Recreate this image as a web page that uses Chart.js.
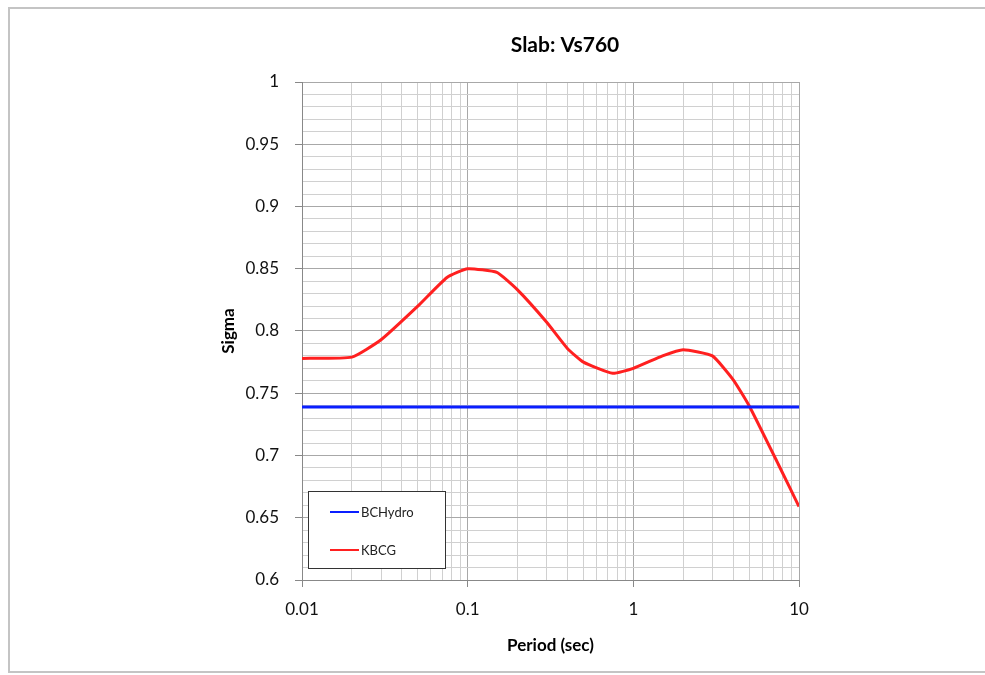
<!DOCTYPE html>
<html>
<head>
<meta charset="utf-8">
<script src="https://cdn.jsdelivr.net/npm/chart.js@4/dist/chart.umd.min.js"></script>
<style>
  html, body { margin: 0; padding: 0; background: #fff; }
  #wrap { width: 985px; height: 675px; position: relative; }
</style>
</head>
<body>
<div id="wrap"><canvas id="sigmaChart"></canvas></div>
<script>
// data
let periods = [0.01, 0.02, 0.03, 0.05, 0.075, 0.1, 0.15, 0.2, 0.3, 0.4, 0.5, 0.75, 1, 1.5, 2, 3, 4, 5, 7.5, 10];
let kbcg = [0.778, 0.779, 0.793, 0.82, 0.843, 0.85, 0.847, 0.833, 0.807, 0.786, 0.775, 0.766, 0.770, 0.780, 0.785, 0.780, 0.761, 0.740, 0.693, 0.659];
let bchydroPeriods = [0.01, 10];
let bchydro = [0.739, 0.739];
let xTickValues = [0.01, 0.1, 1, 10];
let chartTitle = "Slab: Vs760";

let fontName = "Lato, 'Open Sans', sans-serif";

let points = (xs, ys) => xs.map((x, i) => ({x: x, y: ys[i]}));

//title, legend box and the frame
let decorPlugin = {
    id: "decor",
    beforeDraw(chart) {
        let ctx = chart.ctx;
        ctx.save();
        ctx.fillStyle = "#fff";
        ctx.fillRect(0, 0, chart.width, chart.height);
        ctx.strokeStyle = "#c4c4c4";
        ctx.lineWidth = 2;
        ctx.beginPath();
        ctx.moveTo(986, 8);
        ctx.lineTo(9, 8);
        ctx.lineTo(9, 672);
        ctx.lineTo(986, 672);
        ctx.stroke();
        ctx.restore();
    },
    afterDraw(chart) {
        let ctx = chart.ctx;
        ctx.save();
        ctx.fillStyle = "#000";
        ctx.font = "bold 21px " + fontName;
        ctx.textAlign = "center";
        ctx.textBaseline = "middle";
        ctx.fillText(chartTitle, 565, 45);

        // legend
        ctx.fillStyle = "#fff";
        ctx.fillRect(308, 491, 137, 77);
        ctx.strokeStyle = "#333";
        ctx.lineWidth = 1;
        ctx.strokeRect(308.5, 491.5, 137, 77);
        ctx.font = "13px " + fontName;
        ctx.textAlign = "left";
        chart.data.datasets.forEach((ds, i) => {
            let y = 512 + i * 38;
            ctx.strokeStyle = ds.borderColor;
            ctx.lineWidth = 2;
            ctx.beginPath();
            ctx.moveTo(330, y);
            ctx.lineTo(359, y);
            ctx.stroke();
            ctx.fillStyle = "#222";
            ctx.fillText(ds.label, 361, y + 1);
        });
        ctx.restore();
    },
};

let isMajorY = (v) => Math.round(v * 100) % 5 === 0;
let isMajorX = (v) => Math.abs(Math.log10(v) - Math.round(Math.log10(v))) < 1e-6;

new Chart(document.getElementById("sigmaChart").getContext("2d"), {
    type: "line",
    data: {
        datasets: [{
            label: "BCHydro",
            data: points(bchydroPeriods, bchydro),
            borderColor: "#0a1fff",
            borderWidth: 3,
            pointRadius: 0,
        }, {
            label: "KBCG",
            data: points(periods, kbcg),
            borderColor: "#ff2020",
            borderWidth: 3,
            pointRadius: 0,
            tension: 0.15,
        }, ],
    },
    options: {
        responsive: true,
        maintainAspectRatio: false,
        animation: false,
        layout: {
            padding: {top: 82, left: 214, right: 186, bottom: 15},
        },
        plugins: {
            legend: {display: false},
            title: {display: false},
            tooltip: {enabled: false},
        },
        scales: {
            x: {
                type: "logarithmic",
                min: 0.01,
                max: 10,
                afterBuildTicks: function(scale) {
                    let ticks = [];
                    xTickValues.forEach((d, k) => {
                        let last = k === xTickValues.length - 1 ? 1 : 9;
                        for (let m = 1; m <= last; m++) {
                            ticks.push({value: +(d * m).toPrecision(3)});
                        }
                    });
                    scale.ticks = ticks;
                },
                afterFit: function(scale) {
                    scale.height = 80;
                },
                ticks: {
                    autoSkip: false,
                    maxRotation: 0,
                    padding: 12,
                    color: "#111",
                    font: {family: fontName, size: 17},
                    callback: function(v) {
                        return isMajorX(v) ? String(v) : "";
                    },
                },
                grid: {
                    color: (c) => isMajorX(c.tick.value) ? "#a8a8a8" : "#d0d0d0",
                    tickColor: (c) => isMajorX(c.tick.value) ? "#888" : "rgba(0,0,0,0)",
                    tickLength: 7,
                },
                border: {color: "#888", width: 1},
                title: {
                    display: true,
                    text: "Period (sec)",
                    color: "#000",
                    font: {family: fontName, size: 17, weight: "bold"},
                    padding: {top: 4, bottom: 4},
                },
            },
            y: {
                min: 0.6,
                max: 1,
                afterFit: function(scale) {
                    scale.width = 302 - 214;
                },
                ticks: {
                    stepSize: 0.01,
                    autoSkip: false,
                    padding: 16,
                    color: "#111",
                    font: {family: fontName, size: 17},
                    callback: function(v) {
                        return isMajorY(v) ? String(+v.toFixed(2)) : "";
                    },
                },
                grid: {
                    color: (c) => isMajorY(c.tick.value) ? "#a8a8a8" : "#d0d0d0",
                    tickColor: (c) => isMajorY(c.tick.value) ? "#888" : "rgba(0,0,0,0)",
                    tickLength: 7,
                },
                border: {color: "#888", width: 1},
                title: {
                    display: true,
                    text: "Sigma",
                    color: "#000",
                    font: {family: fontName, size: 17, weight: "bold"},
                    padding: {top: 4, bottom: 4},
                },
            },
        },
    },
    plugins: [decorPlugin],
});
</script>
</body>
</html>
